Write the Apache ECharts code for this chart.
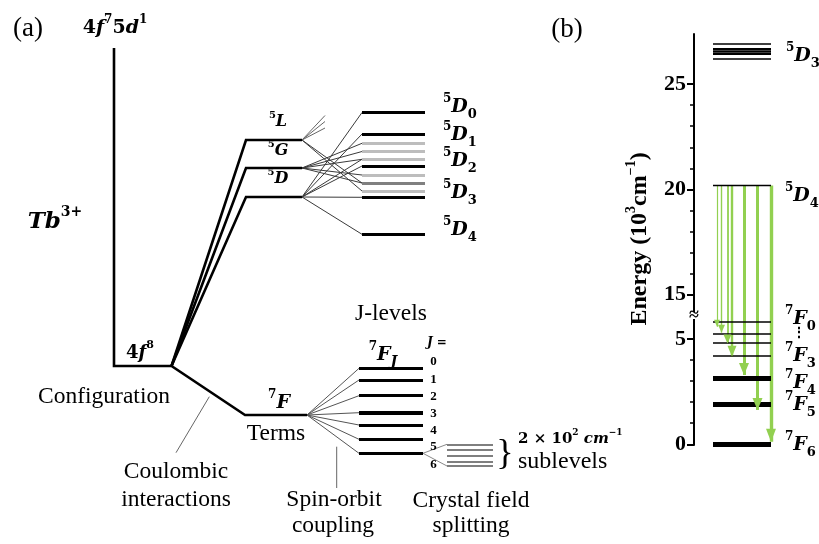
<!DOCTYPE html>
<html><head><meta charset="utf-8">
<script src="https://cdn.jsdelivr.net/npm/echarts@6.0.0/dist/echarts.min.js"></script>
<style>html,body{margin:0;padding:0;background:#fff}#c{width:819px;height:544px}</style>
</head><body><div id="c"></div>
<script>
// ================= DATA =================
// Panel (a): schematic diagram. x = stage coordinate, E = schematic energy.
const stageConfigX = [11.4, 17.15];     // configuration column
const stageTermX = [24.6, 30.2];        // quintet terms column
const stageSeptetX = [24.5, 30.7];      // 7F term column
const stageD5JX = [36.2, 42.5];         // 5D_J column
const stageF7JX = [35.9, 42.3];         // 7F_J column
const stageStarkX = [44.7, 49.3];       // crystal-field sublevels column
const fanEndX = 32.5;                   // short fan of 5L

const E_4f75d1 = 45.2;
const E_4f8 = 13.4;
const quintetTermNames = ['5L', '5G', '5D'];
const quintetTermE = [36.0, 33.2, 30.3];
const septetTermE = 8.5;
const d5JE = [38.75, 36.6, 33.4, 30.27, 26.57];          // black J-levels
const otherQuintetE = [35.67, 34.85, 34.07, 32.5, 31.7, 30.9]; // gray levels
const linksFrom5L = [31.7, 30.9];
const fan5L = [38.45, 37.85, 37.2];
const linksFrom5G = [35.67, 34.85, 34.07, 32.5, 31.7];
const linksFrom5D = [38.75, 36.6, 34.07, 33.4, 30.27, 26.57];
const f7JE = [13.17, 12.0, 10.43, 8.73, 7.5, 6.07, 4.67];
const jValues = ['0', '1', '2', '3', '4', '5', '6'];
const starkE = [5.57, 5.0, 4.43, 3.83, 3.4];

// Panel (b): energy in 10^3 cm^-1
const d3LevelsB = [26.89, 26.67, 26.54, 26.43, 26.18];
const d4LevelB = 20.18;
const f7LevelsB = [5.82, 5.24, 4.81, 4.19, 3.13, 1.91, 0];
const levelBX = [19, 77];
const emissionX = [23, 27.5, 33.5, 38, 50, 63.5, 77];
const emissionEnd = [5.58, 5.30, 4.79, 4.16, 3.29, 1.63, 0.12];
const majorTicks = [0, 5, 15, 20, 25];
const minorTicks = [1, 2, 3, 4, 16, 17, 18, 19, 21, 22, 23, 24];

// ================= BUILD =================
const SERIF = "'Liberation Serif','Times New Roman',serif";
const MATH = "'DejaVu Serif',serif";
const GREEN = '#92d050';

function seg(x1, y1, x2, y2, w, c) {
  return { coords: [[x1, y1], [x2, y2]], lineStyle: { width: w, color: c, opacity: 1 } };
}

const skeleton = [
  { coords: [[stageConfigX[0], E_4f75d1], [stageConfigX[0], E_4f8], [stageConfigX[1], E_4f8], [stageSeptetX[0], septetTermE], [stageSeptetX[1], septetTermE]] }
];
quintetTermE.forEach(e => skeleton.push({ coords: [[stageConfigX[1], E_4f8], [stageTermX[0], e], [stageTermX[1], e]] }));

const levelsA = [];
otherQuintetE.forEach(e => levelsA.push(seg(stageD5JX[0], e, stageD5JX[1], e, 2.8, e === 31.7 ? '#808080' : '#bdbdbd')));
d5JE.forEach(e => levelsA.push(seg(stageD5JX[0], e, stageD5JX[1], e, 2.8, '#000')));
f7JE.forEach((e, i) => levelsA.push(seg(stageF7JX[0], e, stageF7JX[1], e, i === 3 ? 4.2 : 3.2, '#000')));
starkE.forEach(e => levelsA.push(seg(stageStarkX[0], e, stageStarkX[1], e, 1.6, '#555')));

const thinA = [];
const TC = '#3a3a3a';
linksFrom5L.forEach(e => thinA.push(seg(stageTermX[1], quintetTermE[0], stageD5JX[0], e, 1, TC)));
fan5L.forEach(e => thinA.push(seg(stageTermX[1], quintetTermE[0], fanEndX, e, 1, '#666')));
linksFrom5G.forEach(e => thinA.push(seg(stageTermX[1], quintetTermE[1], stageD5JX[0], e, 1, TC)));
linksFrom5D.forEach(e => thinA.push(seg(stageTermX[1], quintetTermE[2], stageD5JX[0], e, 1, TC)));
f7JE.forEach(e => thinA.push(seg(stageSeptetX[1], septetTermE, stageF7JX[0], e, 1, '#555')));
[starkE[0], starkE[starkE.length - 1]].forEach(e => thinA.push(seg(stageF7JX[1], f7JE[6], stageStarkX[0], e, 1, '#888')));

const levelsB = [];
d3LevelsB.forEach((e, i) => levelsB.push(seg(levelBX[0], e, levelBX[1], e, [1.5, 2, 2.6, 2, 1.5][i], '#000')));
levelsB.push(seg(levelBX[0], d4LevelB, levelBX[1], d4LevelB, 1.4, '#000'));
f7LevelsB.forEach((e, i) => levelsB.push(seg(levelBX[0], e, levelBX[1], e, i >= 4 ? 5 : 1.5, '#000')));

const emW = [1.2, 1.4, 1.8, 2.4, 3, 3, 3.4];
const emHead = [[6, 7], [7, 8], [8, 9], [9, 11], [10, 12], [10, 12], [10, 13]];
const emissionLines = emissionX.map((x, i) => seg(x, d4LevelB, x, emissionEnd[i], emW[i], GREEN));
const emissionHeads = emissionX.map((x, i) => ({
  value: [x, emissionEnd[i]], symbolSize: emHead[i], symbolOffset: [0, -emHead[i][1] / 2]
}));

// ---- Text helpers ----
function mathRich(size) {
  const lh = Math.round(size * 1.45);
  return {
    m: { fontFamily: MATH, fontSize: size, fontWeight: 'bold', fontStyle: 'italic', lineHeight: lh, fill: '#000' },
    n: { fontFamily: MATH, fontSize: size, fontWeight: 'bold', lineHeight: lh, fill: '#000' },
    sp: { fontFamily: MATH, fontSize: Math.round(size * 0.63), fontWeight: 'bold', lineHeight: Math.round(size * 0.5), verticalAlign: 'top', fill: '#000' },
    sb: { fontFamily: MATH, fontSize: Math.round(size * 0.68), fontWeight: 'bold', lineHeight: Math.round(size * 0.9), verticalAlign: 'bottom', fill: '#000' },
    sbi: { fontFamily: MATH, fontSize: Math.round(size * 0.72), fontWeight: 'bold', fontStyle: 'italic', lineHeight: Math.round(size * 0.85), verticalAlign: 'bottom', fill: '#000' }
  };
}
function txt(x, y, text, size, align, weight, family) {
  return { type: 'text', x, y, z: 100, silent: true, style: {
    text, fill: '#000', font: `${weight || 'normal'} ${size}px ${family || SERIF}`,
    align: align || 'center', verticalAlign: 'middle', textAlign: align || 'center', textVerticalAlign: 'middle' } };
}
function mtxt(x, y, text, size, align) {
  return { type: 'text', x, y, z: 100, silent: true, style: {
    text, fill: '#000', font: `bold ${size}px ${MATH}`, rich: mathRich(size),
    align: align || 'center', verticalAlign: 'middle', textAlign: align || 'center', textVerticalAlign: 'middle' } };
}

const jLabelY = [362, 379.5, 396.5, 413.5, 430.5, 447, 464.5];
const BODY = 23.5;
const graphics = [
  txt(28, 29, '(a)', 27),
  mtxt(115, 28, '{n|4}{m|f}{sp|7}{n|5}{m|d}{sp|1}', 19),
  mtxt(55, 222, '{m|Tb}{sp|3+}', 23),
  mtxt(140, 353, '{n|4}{m|f}{sp|8}', 18),
  mtxt(278, 122, '{sp|5}{m|L}', 16),
  mtxt(278, 151, '{sp|5}{m|G}', 16),
  mtxt(278, 179, '{sp|5}{m|D}', 16),
  mtxt(443, 107, '{sp|5}{m|D}{sb|0}', 19, 'left'),
  mtxt(443, 135, '{sp|5}{m|D}{sb|1}', 19, 'left'),
  mtxt(443, 161, '{sp|5}{m|D}{sb|2}', 19, 'left'),
  mtxt(443, 193, '{sp|5}{m|D}{sb|3}', 19, 'left'),
  mtxt(443, 230, '{sp|5}{m|D}{sb|4}', 19, 'left'),
  mtxt(279, 403, '{sp|7}{m|F}', 19),
  mtxt(383, 355, '{sp|7}{m|F}{sbi|J}', 19),
  txt(391, 314, 'J-levels', BODY),
  mtxt(427, 343, '{m|J}{n| =}', 12, 'left'),
  txt(104, 397, 'Configuration', BODY),
  txt(176, 472, 'Coulombic', BODY),
  txt(176, 500, 'interactions', BODY),
  txt(276, 434, 'Terms', BODY),
  txt(334, 500, 'Spin-orbit', BODY),
  txt(333, 526, 'coupling', BODY),
  txt(471, 501, 'Crystal field', BODY),
  txt(471, 526, 'splitting', BODY),
  txt(505, 455, '}', 36),
  mtxt(518, 439, '{n|2 × 10}{sp|2}{m| cm}{sp|−1}', 15, 'left'),
  txt(518, 462, 'sublevels', 24, 'left'),
  { type: 'line', z: 100, silent: true, shape: { x1: 209.3, y1: 396.7, x2: 176, y2: 452.7 }, style: { stroke: '#666', lineWidth: 1 } },
  { type: 'line', z: 100, silent: true, shape: { x1: 336.7, y1: 446.7, x2: 336.7, y2: 488 }, style: { stroke: '#666', lineWidth: 1 } },
  // panel (b)
  txt(567, 30, '(b)', 27),
  mtxt(786, 56, '{sp|5}{m|D}{sb|3}', 19, 'left'),
  mtxt(785, 196, '{sp|5}{m|D}{sb|4}', 19, 'left'),
  mtxt(785, 319, '{sp|7}{m|F}{sb|0}', 19, 'left'),
  txt(799, 333, '⋮', 14, 'center', 'bold', MATH),
  mtxt(785, 356, '{sp|7}{m|F}{sb|3}', 19, 'left'),
  mtxt(785, 383, '{sp|7}{m|F}{sb|4}', 19, 'left'),
  mtxt(785, 405, '{sp|7}{m|F}{sb|5}', 19, 'left'),
  mtxt(785, 445, '{sp|7}{m|F}{sb|6}', 19, 'left'),
  { type: 'rect', z: 100, silent: true, shape: { x: 689, y: 312, width: 10, height: 7 }, style: { fill: '#fff' } },
  { type: 'text', x: 694, y: 315.5, z: 101, style: { text: '≈', fill: '#000', font: `bold 18px ${SERIF}`, align: 'center', verticalAlign: 'middle' } }
];
jValues.forEach((j, i) => graphics.push(txt(433.5, jLabelY[i], j, 13, 'center', 'bold')));

const yAxisB = {
  gridIndex: 1, type: 'value', min: 0, max: 27.4, position: 'left',
  breaks: [{ start: 6, end: 14, gap: '0.5%' }],
  breakArea: { show: false },
  splitLine: { show: false }
};

const option = {
  backgroundColor: '#fff',
  animation: false,
  grid: [
    { left: 0, top: 0, width: 540, height: 544 },
    { left: 694, top: 33.5, width: 100, height: 410.8 }
  ],
  xAxis: [
    { gridIndex: 0, type: 'value', min: 0, max: 54, show: false },
    { gridIndex: 1, type: 'value', min: 0, max: 100, show: false }
  ],
  yAxis: [
    { gridIndex: 0, type: 'value', min: -4.4, max: 50, show: false },
    Object.assign({}, yAxisB, {
      axisLine: { show: true, lineStyle: { color: '#000', width: 2 } },
      axisTick: { show: true, length: 7, customValues: majorTicks, lineStyle: { color: '#000', width: 2 } },
      axisLabel: { show: true, customValues: majorTicks, margin: 8, color: '#000', fontFamily: SERIF, fontWeight: 'bold', fontSize: 22 },
      name: 'Energy (10{sp|3}cm{sp|−1})',
      nameLocation: 'middle', nameRotate: 90, nameGap: 38,
      nameTextStyle: { color: '#000', fontFamily: SERIF, fontWeight: 'bold', fontSize: 24, lineHeight: 32, padding: [0, 0, 0, 0],
        rich: { sp: { fontFamily: SERIF, fontWeight: 'bold', fontSize: 14, lineHeight: 13, verticalAlign: 'top', color: '#000' } } }
    }),
    Object.assign({}, yAxisB, {
      axisLine: { show: false },
      axisTick: { show: true, length: 4, customValues: minorTicks, lineStyle: { color: '#000', width: 1.5 } },
      axisLabel: { show: false }
    })
  ],
  graphic: graphics,
  series: [
    { type: 'lines', coordinateSystem: 'cartesian2d', xAxisIndex: 0, yAxisIndex: 0, polyline: true, silent: true,
      lineStyle: { width: 2.6, color: '#000', opacity: 1, join: 'miter' }, data: skeleton },
    { type: 'lines', coordinateSystem: 'cartesian2d', xAxisIndex: 0, yAxisIndex: 0, silent: true,
      lineStyle: { opacity: 1 }, data: thinA },
    { type: 'lines', coordinateSystem: 'cartesian2d', xAxisIndex: 0, yAxisIndex: 0, silent: true,
      lineStyle: { opacity: 1 }, data: levelsA },
    { type: 'lines', coordinateSystem: 'cartesian2d', xAxisIndex: 1, yAxisIndex: 1, silent: true, clip: false,
      lineStyle: { opacity: 1 }, data: emissionLines },
    { type: 'lines', coordinateSystem: 'cartesian2d', xAxisIndex: 1, yAxisIndex: 1, silent: true, clip: false,
      lineStyle: { opacity: 1 }, data: levelsB },
    { type: 'scatter', xAxisIndex: 1, yAxisIndex: 1, silent: true, clip: false, symbol: 'triangle', symbolRotate: 180,
      itemStyle: { color: GREEN, opacity: 1 }, data: emissionHeads }
  ]
};

const chart = echarts.init(document.getElementById('c'), null, { renderer: 'canvas', width: 819, height: 544 });
chart.setOption(option);
</script>
</body></html>
